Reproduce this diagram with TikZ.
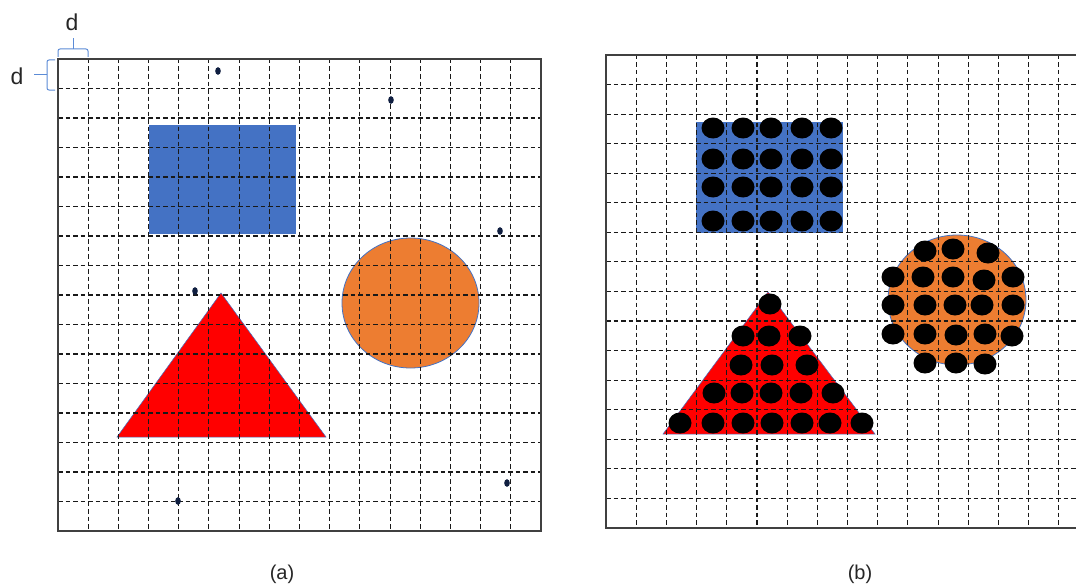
\documentclass[tikz,border=0pt]{standalone}
\usepackage{fontspec}
\setmainfont{Liberation Sans}
\definecolor{shblue}{HTML}{4472C4}
\definecolor{shorange}{HTML}{ED7D31}
\definecolor{dotnavy}{HTML}{0F1E40}
\definecolor{bracecol}{HTML}{5B8BD6}
\begin{document}
\begin{tikzpicture}[x=1pt,y=-1pt,
  gridline/.style={black!90,line width=1.1pt,dash pattern=on 4.5pt off 3pt},
  frameline/.style={black!75,line width=1.5pt},
  bigdot/.style={fill=black},
  smalldot/.style={fill=dotnavy},
  lbl/.style={font=\fontsize{20}{22}\selectfont,text=black!85,inner sep=0pt},
  dlbl/.style={font=\fontsize{23}{25}\selectfont,text=black!85,inner sep=0pt},
  brace/.style={bracecol,line width=1pt,rounded corners=2pt}]
\useasboundingbox (0,0) rectangle (1076,586);
\fill[white] (0,0) rectangle (1076,586);

% ---------- panel (a) ----------
\fill[shblue] (149,125) rectangle (296,234);
\filldraw[fill=shorange,draw=shblue,line width=0.8pt] (410.5,303) ellipse [x radius=68.5,y radius=65];
\filldraw[fill=red,draw=shblue,line width=0.5pt] (221,293) -- (326,437) -- (117,437) -- cycle;
\foreach \i in {1,...,15} {
  \draw[gridline] ({58+\i*30.1875},59) -- ({58+\i*30.1875},531);
  \draw[gridline] (58,{59+\i*29.5}) -- (541,{59+\i*29.5});
}
\draw[frameline] (58,59) rectangle (541,531);
\foreach \p in {(218,71),(391,100),(500,231),(195,291),(178,501),(507,483)}
  \fill[smalldot] \p ellipse [x radius=2.8,y radius=3.8];

% braces and d labels
\draw[brace] (58,57) -- (58,49) -- (88,49) -- (88,57);
\draw[bracecol,line width=1pt] (73,49) -- (73,38);
\draw[brace] (55,60) -- (47,60) -- (47,90) -- (55,90);
\draw[bracecol,line width=1pt] (47,75) -- (34,75);
\node[dlbl] (dtop) at (72,22) {d};
\node[dlbl] (dleft) at (17,76) {d};
\node[lbl] (capa) at (282,574) {(a)};

% ---------- panel (b) ----------
\begin{scope}
\clip (0,0) rectangle (1076,586);
\fill[shblue] (696,122) rectangle (843,233);
\filldraw[fill=shorange,draw=shblue,line width=0.8pt] (957,300) ellipse [x radius=69,y radius=65];
\filldraw[fill=red,draw=shblue,line width=0.5pt] (768,292) -- (875,434) -- (663,434) -- cycle;
\foreach \i in {1,...,15} {
  \draw[gridline] ({606+\i*30.19},55) -- ({606+\i*30.19},528);
  \draw[gridline] (606,{55+\i*29.56}) -- (1089,{55+\i*29.56});
}
\draw[frameline] (606,55) rectangle (1089,528);
% rectangle dots
\foreach \y in {128,159,187,221}
  \foreach \x in {713,743,771,802,831}
    \fill[bigdot] (\x,\y) ellipse [x radius=11.5,y radius=10.5];
% triangle dots
\foreach \p in {(770,304),
  (743,336),(769,336),(800,336),
  (741,365),(772,365),(807,365),
  (714,393),(742,393),(771,393),(801,393),(833,393),
  (680,423),(713,423),(743,423),(772,423),(802,423),(830,423),(862,423)}
  \fill[bigdot] \p ellipse [x radius=11.5,y radius=10.5];
% circle dots
\foreach \p in {(925,251),(953,249),(988,253),
  (893,277),(923,277),(953,277),(984,280),(1013,277),
  (893,305),(925,305),(955,305),(982,305),(1013,305),
  (893,334),(925,334),(956,335),(985,334),(1012,336),
  (925,363),(956,363),(985,364)}
  \fill[bigdot] \p ellipse [x radius=11.5,y radius=10.5];
\end{scope}
\node[lbl] (capb) at (860,574) {(b)};
\end{tikzpicture}
\end{document}
